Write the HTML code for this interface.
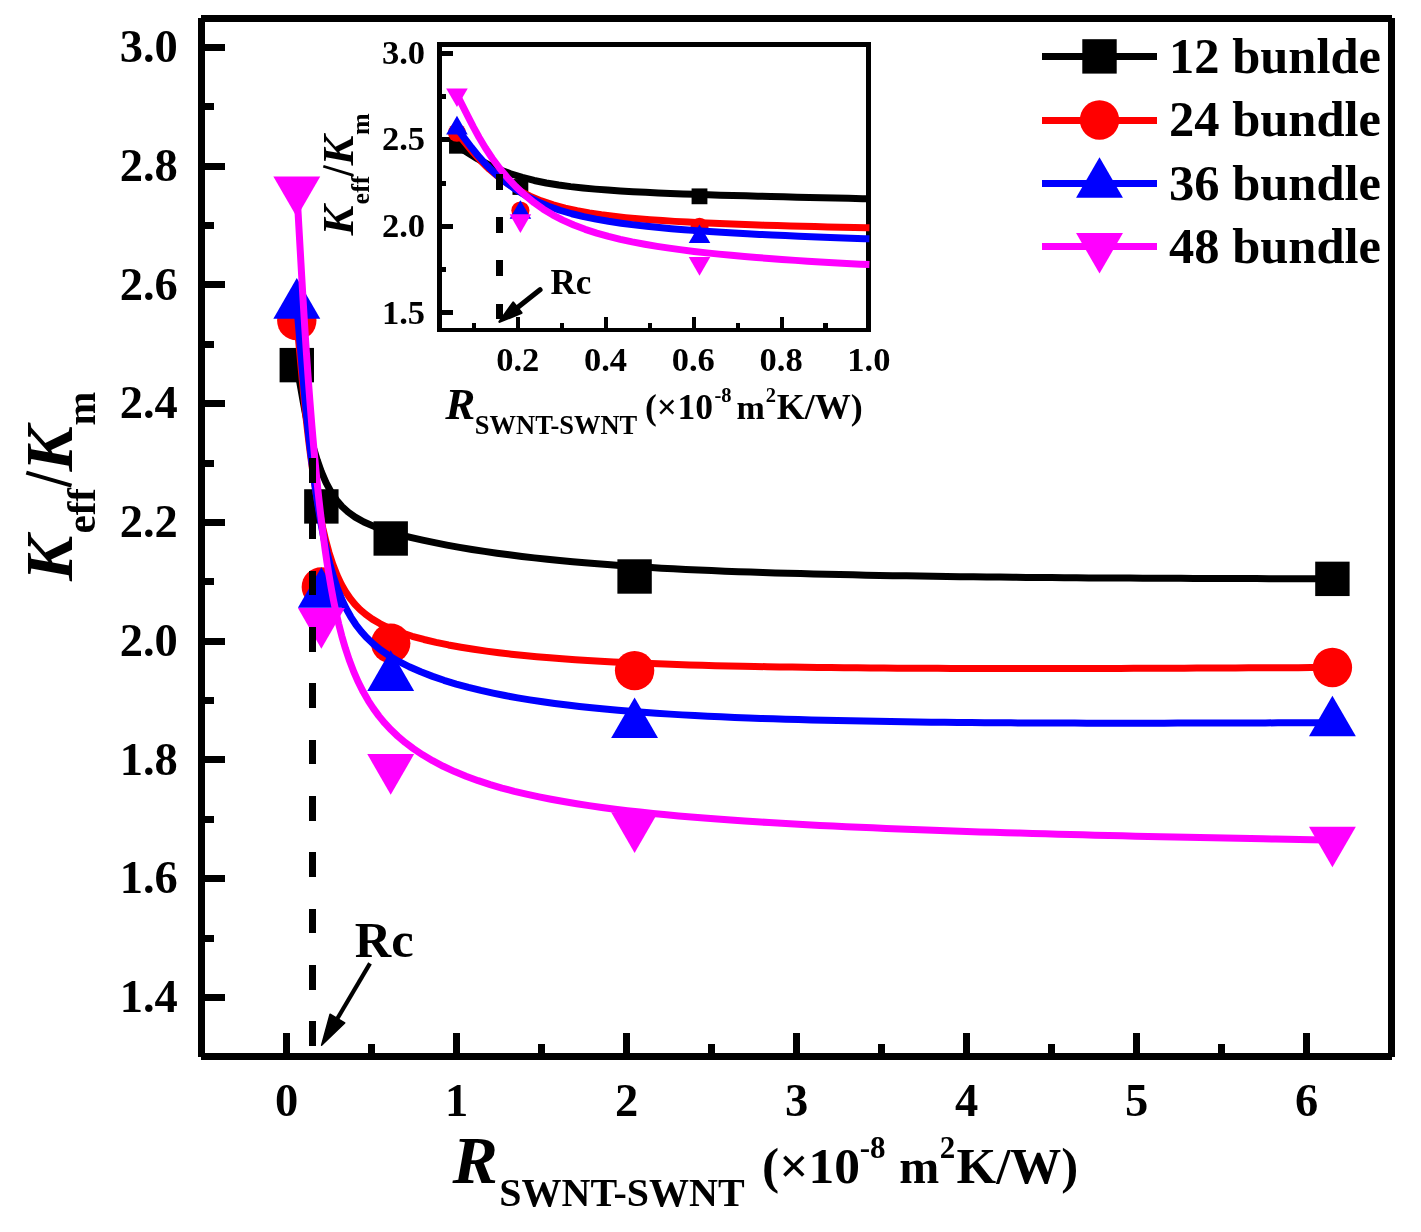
<!DOCTYPE html>
<html><head><meta charset="utf-8"><title>chart</title>
<style>html,body{margin:0;padding:0;background:#fff;}body{width:1421px;height:1232px;overflow:hidden;position:relative;font-family:"Liberation Serif",serif;}</style></head>
<body>
<svg width="1421" height="1232" viewBox="0 0 1421 1232" style="position:absolute;left:0;top:0;display:block;will-change:transform" font-family="'Liberation Serif', serif" font-weight="bold" fill="#000">
<rect x="0" y="0" width="1421" height="1232" fill="#fff"/>
<g shape-rendering="crispEdges">
<rect x="201.5" y="18.5" width="1190" height="1038" fill="none" stroke="#000" stroke-width="7"/>
<rect x="198" y="15" width="3" height="3" fill="#fff"/>
<rect x="198" y="1057" width="3" height="3" fill="#fff"/>
<rect x="1392" y="1057" width="3" height="3" fill="#fff"/>
<rect x="1392" y="15" width="3" height="3" fill="#fff"/>
<rect x="204" y="993.92" width="21" height="7"/>
<rect x="204" y="875.18" width="21" height="7"/>
<rect x="204" y="756.44" width="21" height="7"/>
<rect x="204" y="637.70" width="21" height="7"/>
<rect x="204" y="518.96" width="21" height="7"/>
<rect x="204" y="400.22" width="21" height="7"/>
<rect x="204" y="281.48" width="21" height="7"/>
<rect x="204" y="162.74" width="21" height="7"/>
<rect x="204" y="44.00" width="21" height="7"/>
<rect x="204" y="934.55" width="10" height="7"/>
<rect x="204" y="815.81" width="10" height="7"/>
<rect x="204" y="697.07" width="10" height="7"/>
<rect x="204" y="578.33" width="10" height="7"/>
<rect x="204" y="459.59" width="10" height="7"/>
<rect x="204" y="340.85" width="10" height="7"/>
<rect x="204" y="222.11" width="10" height="7"/>
<rect x="204" y="103.37" width="10" height="7"/>
<rect x="283.00" y="1033" width="7" height="21"/>
<rect x="453.00" y="1033" width="7" height="21"/>
<rect x="623.00" y="1033" width="7" height="21"/>
<rect x="793.00" y="1033" width="7" height="21"/>
<rect x="963.00" y="1033" width="7" height="21"/>
<rect x="1133.00" y="1033" width="7" height="21"/>
<rect x="1303.00" y="1033" width="7" height="21"/>
<rect x="368.00" y="1044" width="7" height="10"/>
<rect x="538.00" y="1044" width="7" height="10"/>
<rect x="708.00" y="1044" width="7" height="10"/>
<rect x="878.00" y="1044" width="7" height="10"/>
<rect x="1048.00" y="1044" width="7" height="10"/>
<rect x="1218.00" y="1044" width="7" height="10"/>
</g>
<text x="177.8" y="1012.02" font-size="46.5" text-anchor="end">1.4</text>
<text x="177.8" y="893.28" font-size="46.5" text-anchor="end">1.6</text>
<text x="177.8" y="774.54" font-size="46.5" text-anchor="end">1.8</text>
<text x="177.8" y="655.80" font-size="46.5" text-anchor="end">2.0</text>
<text x="177.8" y="537.06" font-size="46.5" text-anchor="end">2.2</text>
<text x="177.8" y="418.32" font-size="46.5" text-anchor="end">2.4</text>
<text x="177.8" y="299.58" font-size="46.5" text-anchor="end">2.6</text>
<text x="177.8" y="180.84" font-size="46.5" text-anchor="end">2.8</text>
<text x="177.8" y="62.10" font-size="46.5" text-anchor="end">3.0</text>
<text x="286.50" y="1116" font-size="46.5" text-anchor="middle">0</text>
<text x="456.50" y="1116" font-size="46.5" text-anchor="middle">1</text>
<text x="626.50" y="1116" font-size="46.5" text-anchor="middle">2</text>
<text x="796.50" y="1116" font-size="46.5" text-anchor="middle">3</text>
<text x="966.50" y="1116" font-size="46.5" text-anchor="middle">4</text>
<text x="1136.50" y="1116" font-size="46.5" text-anchor="middle">5</text>
<text x="1306.50" y="1116" font-size="46.5" text-anchor="middle">6</text>
<g transform="translate(71.9,580) rotate(-90)"><text x="-1" y="0" font-size="68" font-style="italic">K</text><text x="46.5" y="23.3" font-size="41">eff</text><text x="108.5" y="0" font-size="68" font-style="italic">K</text><text x="154.5" y="23.3" font-size="40.5">m</text></g>
<line x1="26.3" y1="472.6" x2="71.5" y2="485.6" stroke="#000" stroke-width="4"/>
<line x1="323.3" y1="166.3" x2="353.3" y2="175.4" stroke="#000" stroke-width="2.7"/>
<text x="452.5" y="1183" font-size="68" font-style="italic">R</text>
<text x="499.3" y="1206" font-size="40">SWNT-SWNT</text>
<text x="762" y="1183" font-size="51.5">(×</text>
<text x="808.5" y="1183" font-size="51.5">10</text>
<text x="859.8" y="1158.3" font-size="31">-8</text>
<text x="899.3" y="1183" font-size="48">m</text>
<text x="939.8" y="1158.3" font-size="31">2</text>
<text x="956.5" y="1183" font-size="51">K/W)</text>
<path d="M296.79,365.13 L298.85,377.03 L300.94,389.01 L303.05,400.97 L305.29,412.77 L307.81,424.81 L310.54,436.56 L313.68,448.49 L317.25,460.28 L321.27,471.63 L326.14,482.95 L331.39,492.70 L336.63,500.31 L342.01,506.50 L348.05,512.00 L355.15,517.10 L363.90,522.02 L375.13,526.91 L386.68,530.90 L398.71,534.37 L410.41,537.31 L422.65,540.11 L434.64,542.65 L446.92,545.06 L459.41,547.33 L471.99,549.44 L484.55,551.40 L496.98,553.19 L509.13,554.82 L521.96,556.42 L534.35,557.86 L547.37,559.27 L559.77,560.52 L572.72,561.73 L584.87,562.80 L597.49,563.84 L610.60,564.84 L622.68,565.71 L635.16,566.55 L648.06,567.36 L661.39,568.14 L673.40,568.79 L685.76,569.42 L698.46,570.03 L711.51,570.60 L724.90,571.15 L738.63,571.67 L750.64,572.10 L762.86,572.51 L775.26,572.90 L787.85,573.27 L800.59,573.62 L813.47,573.96 L826.48,574.28 L839.60,574.58 L852.82,574.87 L866.12,575.14 L879.48,575.40 L892.88,575.64 L906.32,575.87 L919.78,576.09 L933.23,576.29 L946.67,576.48 L960.07,576.66 L973.43,576.82 L986.72,576.98 L999.93,577.12 L1013.04,577.26 L1026.05,577.38 L1038.92,577.50 L1051.65,577.61 L1064.22,577.70 L1076.62,577.79 L1088.82,577.88 L1102.79,577.97 L1116.46,578.04 L1129.79,578.12 L1142.76,578.18 L1155.34,578.24 L1167.52,578.29 L1180.90,578.34 L1193.68,578.39 L1205.81,578.43 L1218.65,578.47 L1231.86,578.52 L1244.01,578.56 L1256.20,578.60 L1269.09,578.65 L1281.25,578.69 L1293.79,578.73 L1306.22,578.77 L1318.53,578.81 L1330.54,578.86 L1332.41,578.86" fill="none" stroke="#000000" stroke-width="7" stroke-linejoin="round"/>
<rect x="279.59" y="347.93" width="34.40" height="34.40" fill="#000000"/>
<rect x="304.15" y="489.23" width="34.40" height="34.40" fill="#000000"/>
<rect x="373.51" y="521.29" width="34.40" height="34.40" fill="#000000"/>
<rect x="617.39" y="559.29" width="34.40" height="34.40" fill="#000000"/>
<rect x="1315.21" y="561.66" width="34.40" height="34.40" fill="#000000"/>
<path d="M296.79,320.60 L297.90,332.70 L299.01,344.76 L300.15,357.07 L301.29,369.47 L302.42,381.57 L303.59,393.63 L304.82,405.87 L306.11,418.01 L307.53,430.63 L308.97,442.77 L310.54,455.12 L312.23,467.57 L314.05,480.01 L316.01,492.35 L318.10,504.48 L320.34,516.29 L322.89,528.44 L325.78,540.68 L329.07,552.75 L332.80,564.34 L337.07,575.32 L341.28,584.21 L345.61,591.81 L350.03,598.30 L354.84,604.21 L360.06,609.57 L365.72,614.43 L372.27,619.12 L379.84,623.59 L389.07,628.05 L400.31,632.44 L412.18,636.26 L423.93,639.47 L436.04,642.35 L448.43,644.94 L461.03,647.25 L473.73,649.31 L486.42,651.13 L498.96,652.75 L511.22,654.16 L524.17,655.51 L536.67,656.69 L549.81,657.80 L562.31,658.77 L575.38,659.69 L587.63,660.47 L600.36,661.22 L613.58,661.93 L625.76,662.52 L638.35,663.09 L651.36,663.62 L664.79,664.12 L676.90,664.54 L689.35,664.93 L702.15,665.30 L715.30,665.64 L728.79,665.96 L742.61,666.26 L754.69,666.49 L766.97,666.71 L779.44,666.92 L792.08,667.11 L804.87,667.28 L817.79,667.45 L830.84,667.60 L844.00,667.73 L857.24,667.85 L870.56,667.97 L883.94,668.06 L897.36,668.15 L910.81,668.23 L924.26,668.30 L937.71,668.35 L951.14,668.40 L964.53,668.44 L977.86,668.47 L991.13,668.50 L1004.31,668.51 L1017.39,668.52 L1030.35,668.52 L1043.18,668.52 L1055.86,668.51 L1068.37,668.49 L1080.71,668.47 L1092.84,668.45 L1106.73,668.42 L1120.30,668.38 L1133.53,668.34 L1146.39,668.30 L1158.87,668.25 L1170.92,668.21 L1184.16,668.15 L1196.78,668.10 L1210.19,668.04 L1222.73,667.99 L1235.62,667.93 L1248.58,667.87 L1261.34,667.82 L1273.63,667.76 L1285.95,667.71 L1298.29,667.65 L1310.60,667.60 L1322.75,667.54 L1332.41,667.50" fill="none" stroke="#ff0000" stroke-width="7" stroke-linejoin="round"/>
<circle cx="296.79" cy="320.60" r="19.70" fill="#ff0000"/>
<circle cx="321.35" cy="586.88" r="19.70" fill="#ff0000"/>
<circle cx="390.71" cy="643.22" r="19.70" fill="#ff0000"/>
<circle cx="634.59" cy="670.59" r="19.70" fill="#ff0000"/>
<circle cx="1332.41" cy="667.50" r="19.70" fill="#ff0000"/>
<path d="M296.79,305.17 L297.80,317.12 L298.82,329.15 L299.86,341.31 L300.89,353.45 L301.95,365.92 L303.05,378.52 L304.15,390.65 L305.29,402.71 L306.54,415.31 L307.81,427.47 L309.17,439.93 L310.65,452.60 L312.23,465.39 L313.80,477.30 L315.61,490.09 L317.53,502.74 L319.58,515.17 L321.75,527.29 L324.22,539.84 L326.85,551.83 L329.83,563.89 L333.21,575.80 L337.07,587.44 L341.52,598.73 L346.14,608.55 L350.91,617.08 L355.79,624.51 L361.09,631.40 L366.84,637.81 L373.08,643.76 L380.28,649.64 L388.59,655.44 L398.18,661.14 L409.25,666.75 L420.74,671.80 L432.58,676.38 L443.95,680.29 L456.20,684.04 L468.55,687.42 L480.88,690.44 L493.08,693.14 L505.00,695.53 L517.60,697.82 L529.78,699.84 L542.56,701.77 L554.74,703.45 L567.47,705.07 L579.41,706.46 L591.82,707.80 L604.71,709.08 L618.10,710.29 L630.43,711.33 L643.18,712.31 L656.34,713.25 L669.94,714.13 L682.19,714.87 L694.79,715.57 L707.74,716.23 L721.04,716.85 L734.68,717.44 L748.63,717.99 L760.81,718.43 L773.18,718.85 L785.74,719.24 L798.45,719.61 L811.31,719.96 L824.30,720.28 L837.41,720.58 L850.61,720.86 L863.90,721.12 L877.25,721.36 L890.65,721.59 L904.08,721.79 L917.53,721.98 L930.99,722.15 L944.43,722.30 L957.84,722.44 L971.20,722.56 L984.51,722.67 L997.73,722.77 L1010.87,722.85 L1023.89,722.93 L1036.79,722.99 L1049.54,723.04 L1062.14,723.08 L1074.56,723.11 L1086.80,723.13 L1098.83,723.15 L1112.59,723.16 L1126.01,723.16 L1139.09,723.15 L1151.79,723.14 L1164.09,723.13 L1177.61,723.10 L1190.55,723.07 L1202.84,723.05 L1215.87,723.01 L1228.01,722.98 L1240.47,722.95 L1252.99,722.92 L1265.29,722.89 L1277.95,722.85 L1290.35,722.82 L1302.43,722.79 L1314.46,722.76 L1326.60,722.73 L1332.41,722.72" fill="none" stroke="#0000ff" stroke-width="7" stroke-linejoin="round"/>
<polygon points="273.34,318.70 320.24,318.70 296.79,278.10" fill="#0000ff"/>
<polygon points="297.90,607.83 344.80,607.83 321.35,567.23" fill="#0000ff"/>
<polygon points="367.26,690.95 414.16,690.95 390.71,650.35" fill="#0000ff"/>
<polygon points="611.14,738.03 658.04,738.03 634.59,697.43" fill="#0000ff"/>
<polygon points="1308.96,736.25 1355.86,736.25 1332.41,695.65" fill="#0000ff"/>
<path d="M296.79,189.99 L297.48,202.11 L298.17,214.29 L298.85,226.34 L299.54,238.44 L300.24,250.62 L300.94,262.94 L301.67,275.79 L302.36,287.79 L303.12,300.60 L303.87,312.99 L304.67,325.94 L305.45,338.15 L306.28,350.72 L307.16,363.60 L308.09,376.76 L308.97,388.80 L309.90,400.99 L310.87,413.30 L311.88,425.68 L312.94,438.12 L314.05,450.57 L315.21,463.00 L316.42,475.39 L317.67,487.68 L318.98,499.86 L320.34,511.89 L321.91,525.03 L323.55,537.90 L325.26,550.45 L327.03,562.63 L329.07,575.55 L331.19,587.93 L333.41,599.77 L335.97,612.10 L338.66,623.83 L341.77,635.90 L345.34,648.18 L349.18,659.74 L353.60,671.38 L358.38,682.29 L363.19,691.84 L368.35,700.83 L373.48,708.69 L378.96,716.13 L384.81,723.15 L391.03,729.81 L397.65,736.11 L405.26,742.55 L413.37,748.64 L422.65,754.84 L432.58,760.72 L443.21,766.30 L454.62,771.58 L466.01,776.25 L478.17,780.68 L490.20,784.59 L501.96,788.02 L514.39,791.29 L526.40,794.16 L539.01,796.89 L551.03,799.27 L563.60,801.55 L576.72,803.73 L589.02,805.62 L601.81,807.43 L615.08,809.17 L627.31,810.65 L639.95,812.09 L653.01,813.47 L666.50,814.80 L678.66,815.92 L691.16,817.01 L704.01,818.06 L717.21,819.08 L730.75,820.06 L744.61,821.01 L756.72,821.80 L769.04,822.56 L781.53,823.30 L794.20,824.02 L807.01,824.71 L819.96,825.39 L833.03,826.04 L846.20,826.67 L859.46,827.28 L872.79,827.87 L886.18,828.44 L899.60,828.99 L913.05,829.52 L926.50,830.03 L939.95,830.52 L953.37,831.00 L966.76,831.46 L980.08,831.90 L993.33,832.32 L1006.50,832.73 L1019.56,833.12 L1032.50,833.50 L1045.31,833.86 L1057.96,834.20 L1070.44,834.54 L1082.74,834.85 L1094.84,835.16 L1108.69,835.50 L1122.21,835.82 L1135.39,836.13 L1148.20,836.42 L1160.62,836.69 L1174.29,836.99 L1187.37,837.27 L1199.83,837.53 L1213.05,837.80 L1225.39,838.06 L1238.07,838.32 L1250.81,838.58 L1263.34,838.84 L1275.39,839.09 L1287.45,839.34 L1299.51,839.59 L1311.94,839.84 L1324.02,840.09 L1332.41,840.27" fill="none" stroke="#ff00ff" stroke-width="7" stroke-linejoin="round"/>
<polygon points="273.34,176.45 320.24,176.45 296.79,217.05" fill="#ff00ff"/>
<polygon points="297.90,608.07 344.80,608.07 321.35,648.67" fill="#ff00ff"/>
<polygon points="367.26,754.12 414.16,754.12 390.71,794.72" fill="#ff00ff"/>
<polygon points="611.14,812.31 658.04,812.31 634.59,852.91" fill="#ff00ff"/>
<polygon points="1308.96,826.73 1355.86,826.73 1332.41,867.33" fill="#ff00ff"/>
<rect x="1042" y="53.00" width="115" height="7" fill="#000000" shape-rendering="crispEdges"/>
<rect x="1082.30" y="39.20" width="34.40" height="34.40" fill="#000000"/>
<text x="1169" y="73.4" font-size="50.5">12 bunlde</text>
<rect x="1042" y="117.00" width="115" height="7" fill="#ff0000" shape-rendering="crispEdges"/>
<circle cx="1099.50" cy="120.00" r="19.70" fill="#ff0000"/>
<text x="1169" y="136.4" font-size="50.5">24 bundle</text>
<rect x="1042" y="180.00" width="115" height="7" fill="#0000ff" shape-rendering="crispEdges"/>
<polygon points="1076.05,197.73 1122.95,197.73 1099.50,157.13" fill="#0000ff"/>
<text x="1169" y="199.7" font-size="50.5">36 bundle</text>
<rect x="1042" y="243.00" width="115" height="7" fill="#ff00ff" shape-rendering="crispEdges"/>
<polygon points="1076.05,232.97 1122.95,232.97 1099.50,273.57" fill="#ff00ff"/>
<text x="1169" y="262.6" font-size="50.5">48 bundle</text>
<g shape-rendering="crispEdges">
<rect x="439.5" y="44.8" width="429.2" height="285.1" fill="#fff" stroke="#000" stroke-width="4.7"/>
<rect x="441" y="310" width="12" height="5"/>
<rect x="441" y="224" width="12" height="5"/>
<rect x="441" y="137" width="12" height="5"/>
<rect x="441" y="51" width="12" height="5"/>
<rect x="441" y="267" width="5" height="5"/>
<rect x="441" y="181" width="5" height="5"/>
<rect x="441" y="94" width="5" height="5"/>
<rect x="516.10" y="317.3" width="4.2" height="11"/>
<rect x="603.90" y="317.3" width="4.2" height="11"/>
<rect x="691.70" y="317.3" width="4.2" height="11"/>
<rect x="779.50" y="317.3" width="4.2" height="11"/>
<rect x="472.20" y="322.9" width="4.2" height="6"/>
<rect x="560.00" y="322.9" width="4.2" height="6"/>
<rect x="647.80" y="322.9" width="4.2" height="6"/>
<rect x="735.60" y="322.9" width="4.2" height="6"/>
<rect x="823.40" y="322.9" width="4.2" height="6"/>
</g>
<text x="425" y="323.60" font-size="34.5" text-anchor="end">1.5</text>
<text x="425" y="237.00" font-size="34.5" text-anchor="end">2.0</text>
<text x="425" y="150.40" font-size="34.5" text-anchor="end">2.5</text>
<text x="425" y="63.80" font-size="34.5" text-anchor="end">3.0</text>
<text x="517.70" y="370.5" font-size="34.5" text-anchor="middle">0.2</text>
<text x="605.50" y="370.5" font-size="34.5" text-anchor="middle">0.4</text>
<text x="693.30" y="370.5" font-size="34.5" text-anchor="middle">0.6</text>
<text x="781.10" y="370.5" font-size="34.5" text-anchor="middle">0.8</text>
<text x="868.90" y="370.5" font-size="34.5" text-anchor="middle">1.0</text>
<g transform="translate(353.1,234.9) rotate(-90)"><text x="-0.5" y="0" font-size="45" font-style="italic">K</text><text x="30.5" y="16" font-size="26">eff</text><text x="69.5" y="0" font-size="45" font-style="italic">K</text><text x="100" y="16" font-size="26">m</text></g>
<text x="445.3" y="418.8" font-size="45" font-style="italic">R</text>
<text x="474.8" y="434.2" font-size="26.5">SWNT-SWNT</text>
<text x="645" y="419" font-size="35.5">(×</text>
<text x="677.5" y="419" font-size="35.5">10</text>
<text x="714.5" y="402.2" font-size="20.5">-8</text>
<text x="736.5" y="419" font-size="34">m</text>
<text x="765.8" y="402.2" font-size="20.5">2</text>
<text x="776.8" y="419" font-size="36">K/W)</text>
<path d="M456.96,145.76 L467.05,152.32 L477.33,158.74 L487.92,164.43 L499.00,169.44 L510.53,173.77 L522.26,177.42 L534.14,180.46 L546.32,182.98 L558.71,185.03 L570.60,186.63 L583.03,188.00 L595.21,189.12 L607.69,190.10 L620.36,190.95 L633.09,191.69 L645.76,192.34 L658.21,192.91 L670.30,193.42 L683.07,193.90 L695.28,194.34 L708.10,194.76 L720.17,195.13 L732.76,195.50 L745.88,195.87 L758.02,196.20 L770.60,196.52 L783.63,196.85 L797.15,197.18 L809.39,197.47 L822.03,197.76 L835.09,198.05 L848.57,198.34 L862.51,198.63 L869.40,198.77" fill="none" stroke="#000000" stroke-width="7" stroke-linejoin="round"/>
<rect x="449.05" y="137.85" width="15.82" height="15.82" fill="#000000"/>
<rect x="512.48" y="179.07" width="15.82" height="15.82" fill="#000000"/>
<rect x="691.59" y="188.42" width="15.82" height="15.82" fill="#000000"/>
<path d="M456.96,132.77 L464.58,142.10 L472.32,151.51 L480.40,160.51 L489.22,169.13 L498.69,177.10 L508.72,184.30 L518.98,190.54 L530.03,196.16 L541.30,200.87 L553.17,204.88 L565.11,208.12 L577.00,210.75 L589.35,212.98 L601.32,214.77 L613.48,216.31 L625.70,217.62 L637.86,218.74 L649.82,219.70 L662.53,220.60 L674.86,221.37 L687.88,222.09 L700.33,222.71 L713.40,223.29 L725.70,223.80 L738.52,224.29 L751.89,224.76 L764.25,225.16 L777.06,225.55 L790.33,225.94 L802.35,226.27 L814.76,226.59 L827.57,226.91 L840.81,227.22 L854.49,227.52 L866.57,227.78 L869.40,227.83" fill="none" stroke="#ff0000" stroke-width="7" stroke-linejoin="round"/>
<circle cx="456.96" cy="132.77" r="9.06" fill="#ff0000"/>
<circle cx="520.39" cy="210.45" r="9.06" fill="#ff0000"/>
<circle cx="699.51" cy="226.89" r="9.06" fill="#ff0000"/>
<path d="M456.96,128.27 L464.18,137.87 L471.52,147.58 L479.13,156.96 L487.41,166.02 L496.25,174.48 L505.56,182.22 L515.43,189.28 L526.07,195.77 L536.95,201.35 L548.39,206.23 L559.85,210.25 L571.85,213.75 L583.72,216.62 L595.96,219.12 L608.50,221.30 L621.23,223.20 L634.03,224.86 L646.77,226.30 L659.28,227.56 L671.43,228.67 L684.26,229.72 L696.53,230.63 L709.41,231.52 L721.54,232.28 L734.19,233.03 L747.38,233.75 L759.56,234.38 L772.20,235.00 L785.30,235.60 L798.88,236.20 L811.17,236.71 L823.87,237.21 L836.99,237.70 L850.54,238.19 L864.54,238.66 L869.40,238.82" fill="none" stroke="#0000ff" stroke-width="7" stroke-linejoin="round"/>
<polygon points="446.17,134.49 467.75,134.49 456.96,115.82" fill="#0000ff"/>
<polygon points="509.61,218.84 531.18,218.84 520.39,200.17" fill="#0000ff"/>
<polygon points="688.72,243.09 710.29,243.09 699.51,224.41" fill="#0000ff"/>
<path d="M456.96,94.67 L462.38,105.43 L467.81,116.20 L473.32,126.94 L479.13,137.53 L485.42,148.00 L492.20,158.21 L499.63,168.27 L507.30,177.53 L515.82,186.63 L524.79,195.05 L534.14,202.68 L543.29,209.14 L552.62,214.83 L562.74,220.11 L573.76,225.02 L585.11,229.32 L596.72,233.09 L608.50,236.40 L620.36,239.30 L632.15,241.84 L644.75,244.24 L657.14,246.33 L669.17,248.16 L681.88,249.90 L694.03,251.42 L706.79,252.87 L718.80,254.13 L731.33,255.34 L744.40,256.51 L756.47,257.52 L769.00,258.50 L781.98,259.45 L795.44,260.38 L807.62,261.17 L820.20,261.94 L833.19,262.69 L846.62,263.42 L860.49,264.13 L869.40,264.57" fill="none" stroke="#ff00ff" stroke-width="7" stroke-linejoin="round"/>
<polygon points="446.17,88.44 467.75,88.44 456.96,107.12" fill="#ff00ff"/>
<polygon points="509.61,214.36 531.18,214.36 520.39,233.04" fill="#ff00ff"/>
<polygon points="688.72,256.97 710.29,256.97 699.51,275.64" fill="#ff00ff"/>
<line x1="312.5" y1="458.2" x2="312.5" y2="1053" stroke="#000" stroke-width="7" stroke-dasharray="24.6 31.7" shape-rendering="crispEdges"/>
<line x1="499.5" y1="174" x2="499.5" y2="327" stroke="#000" stroke-width="7" stroke-dasharray="15.8 27.4" shape-rendering="crispEdges"/>
<text x="354.8" y="957.2" font-size="50.5">Rc</text>
<text x="550.5" y="293.8" font-size="35">Rc</text>
<line x1="370.00" y1="963.40" x2="337.39" y2="1018.52" stroke="#000" stroke-width="4.2" stroke-linecap="butt"/><polygon points="321.60,1045.20 330.07,1014.19 344.70,1022.85" stroke="#000" stroke-width="1.5" stroke-linejoin="round"/>
<line x1="540.00" y1="289.80" x2="517.26" y2="307.76" stroke="#000" stroke-width="5.2" stroke-linecap="round"/><polygon points="499.60,321.70 513.23,302.66 521.29,312.86" stroke="#000" stroke-width="2.5" stroke-linejoin="round"/>
</svg>
</body></html>
